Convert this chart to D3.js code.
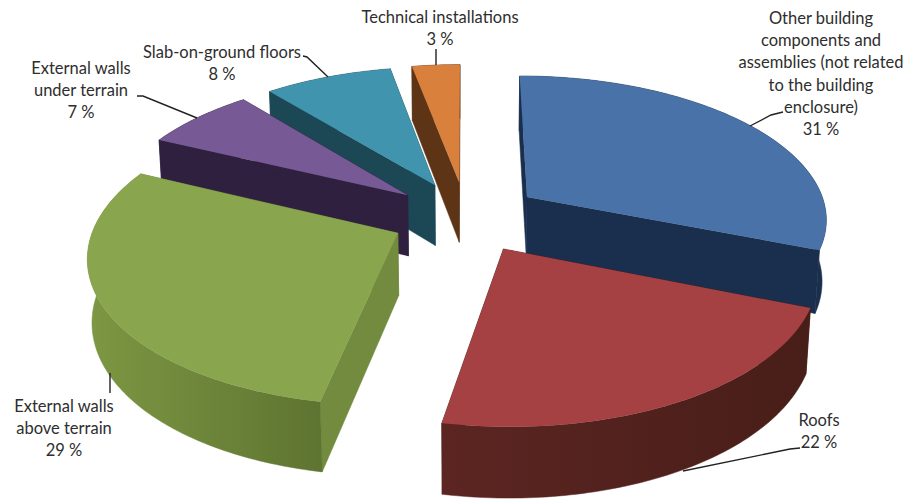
<!DOCTYPE html>
<html><head><meta charset="utf-8">
<script src="https://cdn.jsdelivr.net/npm/d3@7/dist/d3.min.js"></script>
<style>html,body{margin:0;padding:0;background:#fff;overflow:hidden}svg{display:block}
text{font-family:Lato,"Open Sans",sans-serif;font-size:16.5px;fill:#2e2e2e;text-anchor:middle}</style>
</head><body><svg id="c" width="916" height="499"></svg>
<script>
const categories = ["Other building components and assemblies (not related to the building enclosure)","Roofs","External walls above terrain","External walls under terrain","Slab-on-ground floors","Technical installations"];
const values = [31,22,29,7,8,3];
const topColors = ["#4872a8","#a54142","#89a54e","#775a95","#4094ad","#d9813c"];
const sideColorsA = ["#1a2e4e","#5c2522","#7d9743","#2f2040","#1c4856","#5e3417"];
const sideColorsB = ["#1a2e4e","#481e18","#5e7431","#2f2040","#1c4856","#5e3417"];
const radialColors = ["#1a2e4e","#4a1f1a","#738b3f","#2f2040","#1c4856","#5e3417"];
const labelLines = [
 ["Other building","components and","assemblies (not related","to the building","enclosure)","31 %"],
 ["Roofs","22 %"],
 ["External walls","above terrain","29 %"],
 ["External walls","under terrain","7 %"],
 ["Slab-on-ground floors","8 %"],
 ["Technical installations","3 %"]];
const labelX = [821,819,64,81,222,440];
const labelY = [24,426,412,74,58,23];
const leaders = [
 [[783,112],[771,115],[750,126]],
 [[800,448],[790,449],[683,471]],
 [[110,393],[110,373]],
 [[137,96],[143,96],[197,118]],
 [[303,56],[307,57],[328,77]],
 [[436,49],[436,65]]];

const cx=466, cy=216.6, fx=301, fy=143, k=0.14, m=0.012, depth=62.5, explode=0.25;
const sx=d3.scaleLinear().domain([0,1]).range([cx,cx+fx]);
const sy=d3.scaleLinear().domain([0,1]).range([cy,cy-fy]);
const sz=d3.scaleLinear().domain([0,1]).range([0,depth]);
function project(X,Y,z){
  const w=1+k*Y+m*z;
  return [sx(X/w), sy(Y/w)+sz(z)/w];
}
const svg=d3.select("#c");
const defs=svg.append("defs");
const line=d3.line();
const arcs=d3.pie().sort(null).startAngle(0).endAngle(2*Math.PI).value(d=>d)(values);
const order=[5,4,3,0,2,1];
order.forEach(i=>{
  const a=arcs[i], mid=(a.startAngle+a.endAngle)/2;
  const ox=explode*Math.sin(mid), oy=explode*Math.cos(mid);
  const n=Math.ceil((a.endAngle-a.startAngle)*180/Math.PI);
  const rim=d3.range(n+1).map(j=>{
    const t=a.startAngle+(a.endAngle-a.startAngle)*j/n;
    return [ox+Math.sin(t),oy+Math.cos(t)];
  });
  const P=z=>p=>project(p[0],p[1],z);
  const apex=[ox,oy];
  const g=svg.append("g");
  const pts=rim.map(P(0));
  const xs=d3.extent(pts,p=>p[0]);
  const id="side"+i;
  const gr=defs.append("linearGradient").attr("id",id).attr("gradientUnits","userSpaceOnUse")
    .attr("x1",xs[0]).attr("x2",xs[1]).attr("y1",0).attr("y2",0);
  gr.append("stop").attr("offset",0).attr("stop-color",sideColorsA[i]);
  gr.append("stop").attr("offset",1).attr("stop-color",sideColorsB[i]);
  [rim[0],rim[rim.length-1]].forEach(e=>{
    g.append("path").attr("d",line([P(0)(apex),P(0)(e),P(1)(e),P(1)(apex)])+"Z")
      .attr("fill",radialColors[i]).attr("stroke",radialColors[i]).attr("stroke-width",0.5);
  });
  g.append("path").attr("d",line(rim.map(P(0)).concat(rim.slice().reverse().map(P(1))))+"Z")
    .attr("fill",`url(#${id})`).attr("stroke",`url(#${id})`).attr("stroke-width",0.5);
  g.append("path").attr("d",line([P(0)(apex)].concat(rim.map(P(0))))+"Z")
    .attr("fill",topColors[i]);
});
svg.append("g").selectAll("path").data(leaders).join("path")
  .attr("d",d=>line(d)).attr("fill","none").attr("stroke","#222").attr("stroke-width",1.4);
const lh=22.2;
svg.append("g").selectAll("text").data(labelLines).join("text")
  .attr("transform",(d,i)=>`translate(${labelX[i]},${labelY[i]})`)
  .selectAll("tspan").data(d=>d).join("tspan")
  .attr("x",0).attr("y",(d,j)=>j*lh).text(d=>d);
</script></body></html>
